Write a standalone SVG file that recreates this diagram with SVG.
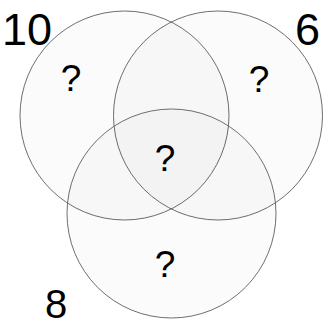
<svg xmlns="http://www.w3.org/2000/svg" width="324" height="326" viewBox="0 0 324 326">
<style>
.c{fill:#000;fill-opacity:0.014;stroke:#555;stroke-width:1;stroke-opacity:0.85}
.n{font-family:"Liberation Sans",Arial,sans-serif;font-size:45px;fill:#000}
.q{font-family:"Liberation Sans",Arial,sans-serif;font-size:37px;fill:#000;text-anchor:middle}
</style>
<rect width="324" height="326" fill="#fff"/>
<g id="circle-left"><circle class="c" cx="124.5" cy="115.5" r="104.5"/></g>
<g id="circle-right"><circle class="c" cx="218" cy="115.5" r="104.5"/></g>
<g id="circle-bottom"><circle class="c" cx="171.5" cy="213.5" r="104.5"/></g>
<g id="labels">
<text class="n" x="45" y="317.5" style="font-size:40px">8</text>
<text class="n" x="2" y="45">10</text>
<text class="n" x="295" y="45">6</text>
<text class="q" x="71" y="91">?</text>
<text class="q" x="259" y="92">?</text>
<text class="q" x="165" y="171">?</text>
<text class="q" x="165" y="277">?</text>
</g>
</svg>
